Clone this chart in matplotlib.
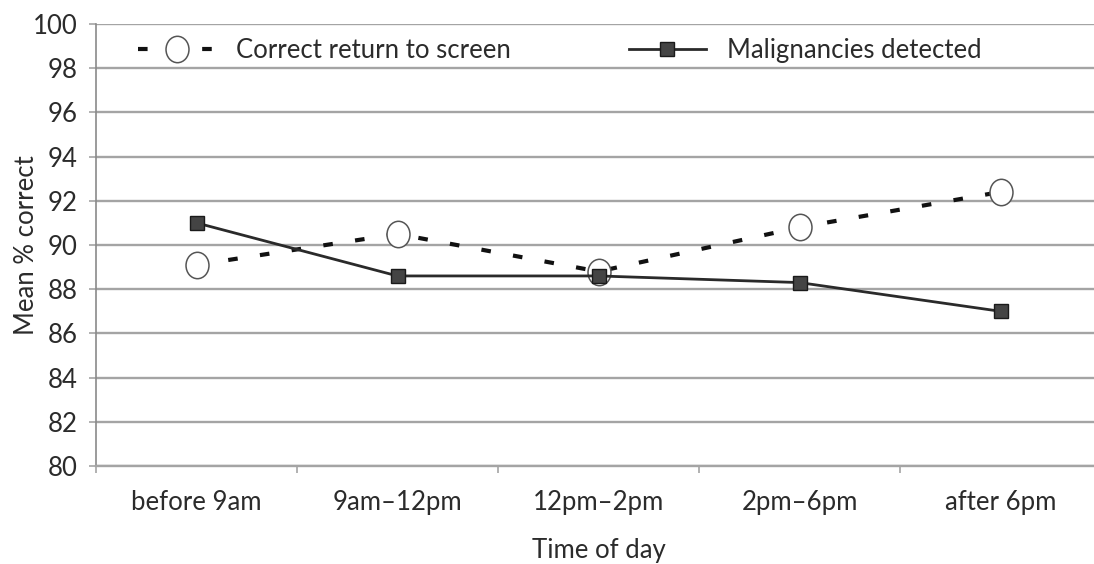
import numpy as np
import matplotlib
matplotlib.use("Agg")
import matplotlib.pyplot as plt
from matplotlib.path import Path
from matplotlib.transforms import Affine2D

plt.rcParams["font.family"] = ["Lato", "DejaVu Sans"]

periods = ["before 9am", "9am\u201312pm", "12pm\u20132pm", "2pm\u20136pm", "after 6pm"]
return_to_screen = [89.1, 90.5, 88.8, 90.8, 92.4]
malignancies = [91.0, 88.6, 88.6, 88.3, 87.0]

TEXT = "#2b2b2b"
GRID = "#a4a4a4"
FS = 18.5

# slightly tall open ellipse for the return-to-screen markers
ellipse = Path.unit_circle().transformed(Affine2D().scale(0.87, 1.0))

fig = plt.figure(figsize=(10.94, 5.64), dpi=100)
ax = fig.add_axes([96 / 1094, 98 / 564, 1005 / 1094, 442 / 564])

x = np.arange(len(periods))
ax.plot(x, return_to_screen, color="#111111", lw=3.0, dashes=(2.3, 5.4),
        marker=ellipse, ms=19, mfc="white", mec="#555555", mew=1.1,
        label="Correct return to screen", zorder=3)
ax.plot(x, malignancies, color="#2a2a2a", lw=2.0, marker="s", ms=10.5,
        mfc="#444444", mec="#1a1a1a", mew=1.0,
        label="Malignancies detected", zorder=4)

ax.set_xlim(-0.5, len(periods) - 0.5)
ax.set_ylim(80, 100)
ax.set_yticks(np.arange(80, 101, 2))
ax.yaxis.grid(True, color=GRID, lw=1.7)
ax.set_axisbelow(True)

ax.set_xticks(x)
ax.set_xticklabels(periods)
ax.set_xticks(np.arange(-0.5, len(periods)), minor=True)
ax.tick_params(axis="x", which="major", length=0, pad=17, labelsize=FS,
               labelcolor=TEXT)
ax.tick_params(axis="x", which="minor", length=5, width=1.2, color=GRID)
ax.tick_params(axis="y", length=5, width=1.2, color=GRID, pad=8,
               labelsize=FS, labelcolor=TEXT)

for side in ("top", "right"):
    ax.spines[side].set_visible(False)
ax.spines["left"].set_color("#8a8a8a")
ax.spines["left"].set_linewidth(1.2)
ax.spines["bottom"].set_color(GRID)
ax.spines["bottom"].set_linewidth(1.7)

ax.set_xlabel("Time of day", fontsize=FS, color=TEXT, labelpad=17)
ax.set_ylabel("Mean % correct", fontsize=FS, color=TEXT)
ax.yaxis.set_label_coords(-0.057, 0.5)

ax.legend(loc="upper left", bbox_to_anchor=(0.019, 1.02), ncol=2, frameon=False,
          fontsize=FS, labelcolor=TEXT, handlelength=3.0, columnspacing=4.6,
          handletextpad=0.8)

fig.savefig("out.png", dpi=100)
